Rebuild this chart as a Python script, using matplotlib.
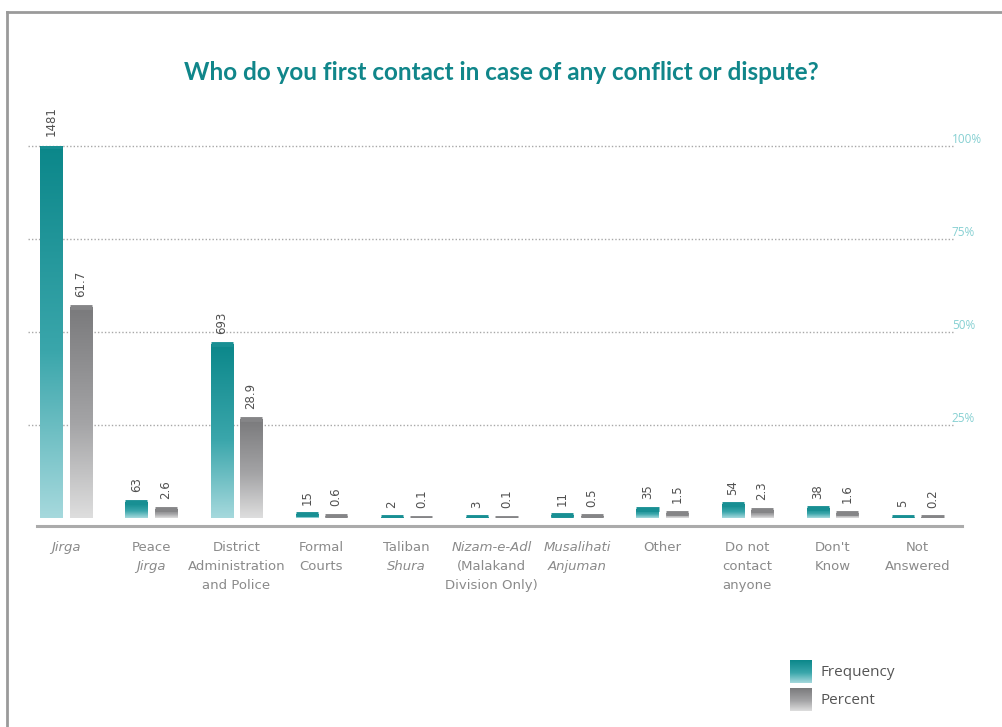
import numpy as np
import matplotlib
matplotlib.use("Agg")
import matplotlib.pyplot as plt
from matplotlib.lines import Line2D
from matplotlib.colors import LinearSegmentedColormap

# survey answers
categories = ["Jirga", "Peace Jirga", "District Administration and Police",
              "Formal Courts", "Taliban Shura", "Nizam-e-Adl (Malakand Division Only)",
              "Musalihati Anjuman", "Other", "Do not contact anyone",
              "Don't Know", "Not Answered"]
frequency = [1481, 63, 693, 15, 2, 3, 11, 35, 54, 38, 5]
percent = [61.7, 2.6, 28.9, 0.6, 0.1, 0.1, 0.5, 1.5, 2.3, 1.6, 0.2]

# tick label lines, (text, italic)
tick_lines = [
    [("Jirga", True)],
    [("Peace", False), ("Jirga", True)],
    [("District", False), ("Administration", False), ("and Police", False)],
    [("Formal", False), ("Courts", False)],
    [("Taliban", False), ("Shura", True)],
    [("Nizam-e-Adl", True), ("(Malakand", False), ("Division Only)", False)],
    [("Musalihati", True), ("Anjuman", True)],
    [("Other", False)],
    [("Do not", False), ("contact", False), ("anyone", False)],
    [("Don't", False), ("Know", False)],
    [("Not", False), ("Answered", False)],
]
grid_labels = ["25%", "50%", "75%", "100%"]
grid_fracs = [0.25, 0.50, 0.75, 1.00]

plt.rcParams["font.family"] = ["DejaVu Sans"]

teal_cmap = LinearSegmentedColormap.from_list(
    "teal", [(0, "#a6d9dd"), (0.45, "#3aa6ab"), (1, "#0b878a")])
gray_cmap = LinearSegmentedColormap.from_list(
    "gray", [(0, "#dedede"), (0.45, "#a4a4a6"), (1, "#7a7a7c")])
grad = np.linspace(0, 1, 256).reshape(-1, 1)

W, H = 1002, 727
fig = plt.figure(figsize=(W / 100, H / 100), dpi=100)

# axes box in pixels: left 37, right 962, bottom 518, top 146
ax = fig.add_axes([37 / W, 1 - 518 / H, 925 / W, 372 / H])
ax2 = ax.twinx()

x = np.arange(len(categories))
bw = 0.26
off = 0.173


def gradient_bars(axis, xs, vals, cmap):
    bars = axis.bar(xs, vals, width=bw, color="none", edgecolor="none")
    for b in bars:
        x0, y0 = b.get_x(), b.get_y()
        h = b.get_height()
        im = axis.imshow(grad, cmap=cmap, origin="lower", aspect="auto",
                         extent=[x0, x0 + b.get_width(), y0, y0 + h], zorder=2)
        im.set_clip_path(b)
        # keep tiny bars visible
        axis.plot([x0, x0 + b.get_width()], [h, h], color=cmap(0.85),
                  lw=3.5, solid_capstyle="butt", zorder=3)
    return bars


gradient_bars(ax, x - off, frequency, teal_cmap)
gradient_bars(ax2, x + off, percent, gray_cmap)
ax.set_xlim(-0.34, 10.52)
ax.set_ylim(0, max(frequency))
ax2.set_ylim(0, 108.8)

# value labels
for xi, f, p in zip(x, frequency, percent):
    ax.annotate(f"{f}", (xi - off, f), xytext=(0, 7), textcoords="offset points",
                rotation=90, ha="center", va="bottom", fontsize=8.5, color="#505050")
    ax2.annotate(f"{p}", (xi + off, p), xytext=(0, 7), textcoords="offset points",
                 rotation=90, ha="center", va="bottom", fontsize=8.5, color="#505050")

# dotted gridlines with percentage marks on the right
for frac, lab in zip(grid_fracs, grid_labels):
    yv = frac * max(frequency)
    ax.plot([-0.44, 10.42], [yv, yv], clip_on=False,
            color="#a8a8a8", lw=1.0, ls=(0, (1, 1.5)), zorder=1)
    ax.text(10.40, yv, lab, ha="left", va="bottom", fontsize=8.5,
            color="#86d0d2", family=["Open Sans", "DejaVu Sans"])

for a in (ax, ax2):
    for s in ("top", "right", "left"):
        a.spines[s].set_visible(False)
    a.set_yticks([])
ax2.spines["bottom"].set_visible(False)
ax.spines["bottom"].set_position(("outward", 6))
ax.spines["bottom"].set_color("#ababab")
ax.spines["bottom"].set_linewidth(2.2)
ax.set_xticks([])
ax2.set_xticks([])

# category labels under the axis
for xi, lines in zip(x, tick_lines):
    for j, (txt, ital) in enumerate(lines):
        ax.text(xi, -0.078 - j * 0.052, txt, transform=ax.get_xaxis_transform(),
                ha="center", va="center", fontsize=9.5, color="#8a8a8a",
                style="italic" if ital else "normal")

fig.text(0.5, 1 - 73 / H, "Who do you first contact in case of any conflict or dispute?",
         ha="center", va="center", fontsize=17.5, fontweight="bold", color="#10868a",
         family=["Lato", "DejaVu Sans"])

# legend swatches
for k, (cm, lab) in enumerate([(teal_cmap, "Frequency"), (gray_cmap, "Percent")]):
    top = 660 + k * 28
    sw = fig.add_axes([790 / W, 1 - (top + 23) / H, 22 / W, 23 / H])
    sw.imshow(grad, cmap=cm, origin="lower", aspect="auto")
    sw.axis("off")
    fig.text(821 / W, 1 - (top + 12) / H, lab, ha="left", va="center",
             fontsize=11, color="#555555", family=["Open Sans", "DejaVu Sans"])

# outer frame
fig.add_artist(Line2D([7 / W, 7 / W], [0, 1 - 12 / H], color="#9a9a9a", lw=2))
fig.add_artist(Line2D([7 / W, 1], [1 - 12 / H, 1 - 12 / H], color="#9a9a9a", lw=2))

fig.savefig("out.png", dpi=100)
